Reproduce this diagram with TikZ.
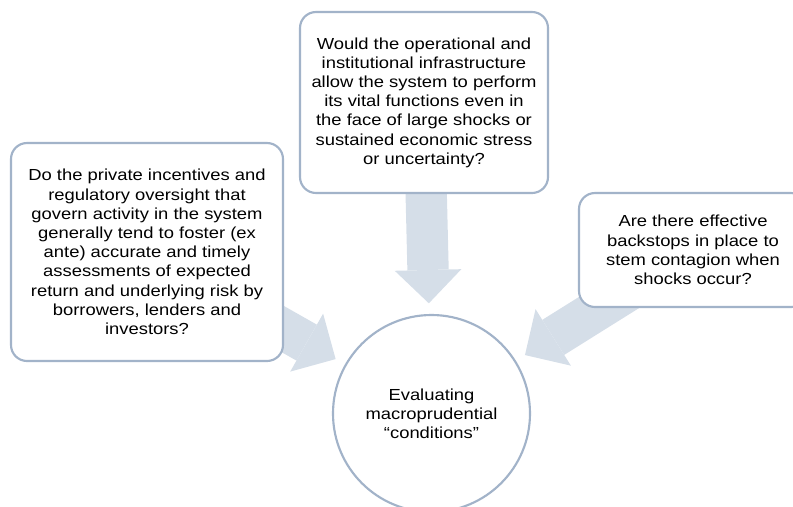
\documentclass[tikz,border=0pt]{standalone}
\usepackage{fontspec}
\setmainfont{Liberation Sans}[FakeStretch=1.15]
\usetikzlibrary{arrows.meta,backgrounds}
\definecolor{frameblue}{HTML}{A2B3C9}
\definecolor{arrowfill}{HTML}{D5DEE8}

\begin{document}
\begin{tikzpicture}[x=0.75pt,y=-0.75pt,
  question/.style={draw=frameblue,line width=1.6pt,fill=white,rounded corners=12pt,
    align=center,inner sep=0pt,font=\fontsize{12}{14.4}\selectfont},
  goal/.style={circle,draw=frameblue,line width=1.6pt,fill=white,minimum size=147.75pt,
    align=center,inner sep=0pt,font=\fontsize{12}{14.4}\selectfont},
  feed/.style={draw=arrowfill,line width=31pt,shorten >=8pt,
    -{Triangle[width=50pt,length=25pt,line width=0pt]}}]
  \useasboundingbox (0,0) rectangle (793,507);
  \clip (0,0) rectangle (793,507);
  % three questions
  \node[question,minimum width=204pt,minimum height=163.5pt] (incentives) at (147,252)
    {Do the private incentives and\\regulatory oversight that\\govern activity in the system\\
     generally tend to foster (ex\\ante) accurate and timely\\assessments of expected\\
     return and underlying risk by\\borrowers, lenders and\\investors?};
  \node[question,minimum width=186pt,minimum height=135.75pt] (infra) at (424,102.5)
    {Would the operational and\\institutional infrastructure\\allow the system to perform\\
     its vital functions even in\\the face of large shocks or\\sustained economic stress\\
     or uncertainty?};
  \node[question,minimum width=171pt,minimum height=85.5pt] (backstops) at (693,250)
    {Are there effective\\backstops in place to\\stem contagion when\\shocks occur?};
  % what they feed into
  \node[goal] (conditions) at (431.5,413.5) {Evaluating\\macroprudential\\“conditions”};
  \begin{scope}[on background layer]
    \foreach \src in {incentives,infra,backstops}
      \draw[feed] (\src.center) -- (conditions);
  \end{scope}
\end{tikzpicture}
\end{document}
